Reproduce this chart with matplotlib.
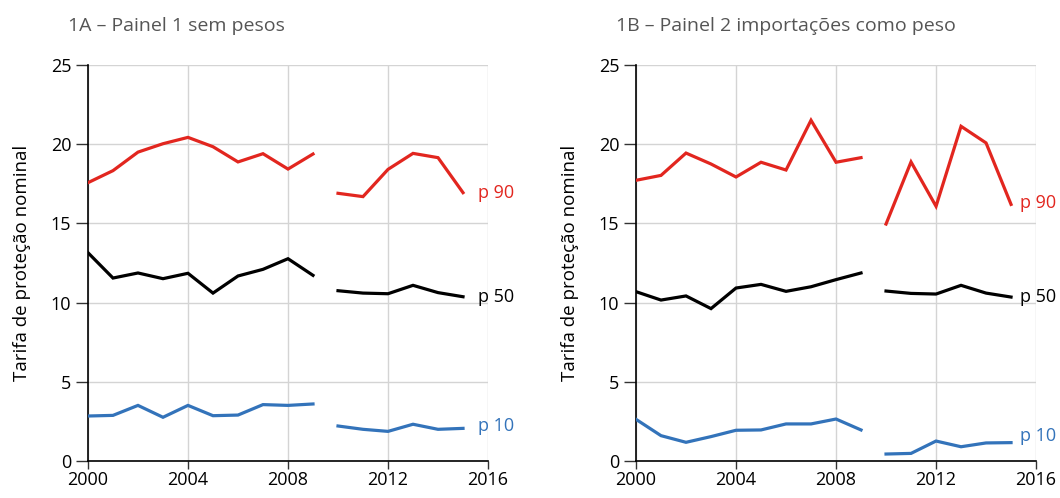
import matplotlib.pyplot as plt
import numpy as np

plt.rcParams['font.family'] = ['Liberation Sans Narrow', 'Open Sans', 'DejaVu Sans']

years = list(range(2000, 2016))

# painel 1 - sem pesos
p90_a = [17.57, 18.33, 19.5, 20.03, 20.43, 19.84, 18.88, 19.4, 18.43, 19.38,
         16.9, 16.69, 18.41, 19.42, 19.15, 16.94]
p50_a = [13.15, 11.55, 11.87, 11.51, 11.85, 10.6, 11.68, 12.1, 12.77, 11.72,
         10.75, 10.6, 10.56, 11.09, 10.63, 10.37]
p10_a = [2.84, 2.88, 3.51, 2.76, 3.51, 2.86, 2.9, 3.56, 3.51, 3.6,
         2.21, 2.0, 1.87, 2.32, 2.0, 2.06]

# painel 2 - importacoes como peso
p90_b = [17.72, 18.03, 19.44, 18.75, 17.93, 18.86, 18.37, 21.51, 18.86, 19.15,
         14.96, 18.88, 16.08, 21.13, 20.08, 16.2]
p50_b = [10.69, 10.16, 10.42, 9.62, 10.92, 11.15, 10.71, 11.0, 11.45, 11.87,
         10.73, 10.58, 10.54, 11.09, 10.6, 10.35]
p10_b = [2.63, 1.6, 1.18, 1.54, 1.94, 1.96, 2.34, 2.34, 2.65, 1.96,
         0.44, 0.48, 1.26, 0.9, 1.14, 1.16]

titles = ["1A – Painel 1 sem pesos", "1B – Painel 2 importações como peso"]
labels = ["p 90", "p 50", "p 10"]
colors = ["#e2261f", "#000000", "#3373ba"]
break_idx = 10  # serie interrompida entre 2009 e 2010
fam = ['Open Sans', 'DejaVu Sans']

fig = plt.figure(figsize=(10.6, 4.98), dpi=100)
ax1 = fig.add_axes([0.0830, 0.0743, 0.3774, 0.7952])
ax2 = fig.add_axes([0.6000, 0.0743, 0.3774, 0.7952])

panels = [(ax1, [p90_a, p50_a, p10_a], [0, 0, 2], 11),
          (ax2, [p90_b, p50_b, p10_b], [1, 0, 5], 6.5)]

for i, (ax, series, dys, dx) in enumerate(panels):
    for vals, lab, col, dy in zip(series, labels, colors, dys):
        ax.plot(years[:break_idx], vals[:break_idx], color=col, lw=2.3,
                solid_joinstyle='miter', zorder=3)
        ax.plot(years[break_idx:], vals[break_idx:], color=col, lw=2.3,
                solid_joinstyle='miter', zorder=3)
        ax.annotate(lab, (years[-1], vals[-1]), xytext=(dx, dy),
                    textcoords='offset points', color=col, fontsize=13,
                    va='center', ha='left', family=fam,
                    annotation_clip=False, zorder=4)
    ax.set_xlim(2000, 2016)
    ax.set_ylim(0, 25)
    ax.set_xticks([2000, 2004, 2008, 2012, 2016])
    ax.set_yticks([0, 5, 10, 15, 20, 25])
    ax.grid(True, color='#d4d4d4', lw=1)
    ax.set_axisbelow(True)
    for s in ['top', 'right']:
        ax.spines[s].set_visible(False)
    ax.spines['left'].set_linewidth(1.2)
    ax.spines['bottom'].set_linewidth(1.2)
    ax.tick_params(axis='both', width=1, color='#333333', labelsize=13)
    ax.tick_params(axis='y', length=9, pad=3)
    ax.tick_params(axis='x', length=6, pad=1)
    for t in ax.get_xticklabels() + ax.get_yticklabels():
        t.set_family(fam)
    ax.set_ylabel("Tarifa de proteção nominal", fontsize=13.5,
                  family=fam, labelpad=14)
    ax.set_title(titles[i], loc='left', x=-0.05, y=1.065, fontsize=14,
                 color='#555555', family=fam)

fig.savefig("out.png", dpi=100)
